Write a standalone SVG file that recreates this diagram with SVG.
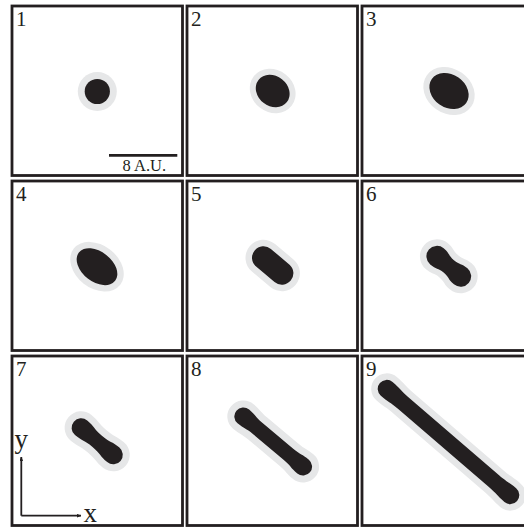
<svg xmlns="http://www.w3.org/2000/svg" width="524" height="527" viewBox="0 0 524 527">
<style>
.frame{fill:#fff;stroke:#231f20;stroke-width:2.8}
.num{font-family:"Liberation Serif","Times New Roman",serif;font-size:21px;fill:#231f20}
.dark{fill:#231f20}
.halo{fill:#e6e7e8}
.ax{stroke:#231f20;stroke-width:1.8;fill:none}
.axl{font-family:"Liberation Serif","Times New Roman",serif;font-size:27px;fill:#231f20}
</style>
<defs>
<marker id="ah" viewBox="0 0 10 8" refX="9" refY="4" markerWidth="4.5" markerHeight="3.6" markerUnits="userSpaceOnUse" orient="auto">
<path d="M0,0 L10,4 L0,8 Z" fill="#231f20"/>
</marker>
</defs>
<rect width="524" height="527" fill="#fff"/>

<g id="panel1">
<rect class="frame" x="12" y="6" width="170.5" height="169.5"/>
<text class="num" x="16" y="25.5">1</text>
<circle class="halo" cx="97.3" cy="91.5" r="19.5"/>
<circle class="dark" cx="97.3" cy="91.5" r="12.6"/>
<line x1="109" y1="155.3" x2="177.3" y2="155.3" stroke="#231f20" stroke-width="2.7"/>
<text x="122.5" y="170.5" font-family="Liberation Serif, Times New Roman, serif" font-size="16.5" fill="#231f20">8 A.U.</text>
</g>

<g id="panel2">
<rect class="frame" x="187" y="6" width="170.5" height="169.5"/>
<text class="num" x="191" y="25.5">2</text>
<ellipse class="halo" cx="272.7" cy="91" rx="24" ry="21" transform="rotate(38 272.7 91)"/>
<ellipse class="dark" cx="272.7" cy="91" rx="18" ry="15" transform="rotate(38 272.7 91)"/>
</g>

<g id="panel3">
<rect class="frame" x="362" y="6" width="170.5" height="169.5"/>
<text class="num" x="366" y="25.5">3</text>
<ellipse class="halo" cx="449" cy="91" rx="27.2" ry="22.3" transform="rotate(35 449 91)"/>
<ellipse class="dark" cx="449" cy="91" rx="21" ry="16.5" transform="rotate(35 449 91)"/>
</g>

<g id="panel4">
<rect class="frame" x="12" y="181" width="170.5" height="169.5"/>
<text class="num" x="16" y="200.5">4</text>
<ellipse class="halo" cx="97" cy="266.7" rx="29.5" ry="21.5" transform="rotate(38 97 266.7)"/>
<ellipse class="dark" cx="97" cy="266.7" rx="23" ry="15" transform="rotate(38 97 266.7)"/>
</g>

<g id="panel5">
<rect class="frame" x="187" y="181" width="170.5" height="169.5"/>
<text class="num" x="191" y="200.5">5</text>
<line x1="263.5" y1="257.8" x2="281.9" y2="273.2" stroke="#e6e7e8" stroke-width="36" stroke-linecap="round"/>
<line x1="263.5" y1="257.8" x2="281.9" y2="273.2" stroke="#231f20" stroke-width="23" stroke-linecap="round"/>
</g>

<g id="panel6">
<rect class="frame" x="362" y="181" width="170.5" height="169.5"/>
<text class="num" x="366" y="200.5">6</text>
<g transform="translate(448.8 266.3) rotate(40)">
<path class="halo" d="M-15.5,-17 A17,17 0 0 0 -15.5,17 C-7.5,17 -7.5,14.5 0,14.5 C7.5,14.5 7.5,17 15.5,17 A17,17 0 0 0 15.5,-17 C7.5,-17 7.5,-14.5 0,-14.5 C-7.5,-14.5 -7.5,-17 -15.5,-17 Z"/>
<path class="dark" d="M-15.5,-10.5 A10.5,10.5 0 0 0 -15.5,10.5 C-7.5,10.5 -7.5,8 0,8 C7.5,8 7.5,10.5 15.5,10.5 A10.5,10.5 0 0 0 15.5,-10.5 C7.5,-10.5 7.5,-8 0,-8 C-7.5,-8 -7.5,-10.5 -15.5,-10.5 Z"/>
</g>
</g>

<g id="panel7">
<rect class="frame" x="12" y="356" width="170.5" height="169.5"/>
<text class="num" x="16" y="375.5">7</text>
<g transform="translate(97.2 441.3) rotate(40)">
<path class="halo" d="M-21,-16.5 A16.5,16.5 0 0 0 -21,16.5 C-11,16.5 -11,14.5 0,14.5 C11,14.5 11,16.5 21,16.5 A16.5,16.5 0 0 0 21,-16.5 C11,-16.5 11,-14.5 0,-14.5 C-11,-14.5 -11,-16.5 -21,-16.5 Z"/>
<path class="dark" d="M-21,-9.5 A9.5,9.5 0 0 0 -21,9.5 C-11,9.5 -11,7.3 0,7.3 C11,7.3 11,9.5 21,9.5 A9.5,9.5 0 0 0 21,-9.5 C11,-9.5 11,-7.3 0,-7.3 C-11,-7.3 -11,-9.5 -21,-9.5 Z"/>
</g>
</g>

<g id="panel8">
<rect class="frame" x="187" y="356" width="170.5" height="169.5"/>
<text class="num" x="191" y="375.5">8</text>
<g transform="translate(273.2 441.5) rotate(40)">
<path class="halo" d="M-39,-16 A16,16 0 0 0 -39,16 C-30,16 -30,14.5 -20,14.5 L20,14.5 C30,14.5 30,16 39,16 A16,16 0 0 0 39,-16 C30,-16 30,-14.5 20,-14.5 L-20,-14.5 C-30,-14.5 -30,-16 -39,-16 Z"/>
<path class="dark" d="M-39,-9 A9,9 0 0 0 -39,9 C-30,9 -30,7.3 -20,7.3 L20,7.3 C30,7.3 30,9 39,9 A9,9 0 0 0 39,-9 C30,-9 30,-7.3 20,-7.3 L-20,-7.3 C-30,-7.3 -30,-9 -39,-9 Z"/>
</g>
</g>

<g id="panel9">
<rect class="frame" x="362" y="356" width="170.5" height="169.5"/>
<text class="num" x="366" y="375.5">9</text>
<g transform="translate(448.5 442) rotate(40.7)">
<path class="halo" d="M-81.5,-15.5 A15.5,15.5 0 0 0 -81.5,15.5 C-71,15.5 -71,14.3 -60,14.3 L60,14.3 C71,14.3 71,15.5 81.5,15.5 A15.5,15.5 0 0 0 81.5,-15.5 C71,-15.5 71,-14.3 60,-14.3 L-60,-14.3 C-71,-14.3 -71,-15.5 -81.5,-15.5 Z"/>
<path class="dark" d="M-81.5,-9 A9,9 0 0 0 -81.5,9 C-71,9 -71,7.8 -60,7.8 L60,7.8 C71,7.8 71,9 81.5,9 A9,9 0 0 0 81.5,-9 C71,-9 71,-7.8 60,-7.8 L-60,-7.8 C-71,-7.8 -71,-9 -81.5,-9 Z"/>
</g>
</g>

<g id="connectors">
<path class="ax" d="M21.3,515.7 L21.3,457" marker-end="url(#ah)"/>
<path class="ax" d="M21.3,515.7 L81,515.7" marker-end="url(#ah)"/>
</g>
<g id="axis-labels">
<text class="axl" x="14.5" y="448">y</text>
<text class="axl" x="83.5" y="521.7">x</text>
</g>
</svg>
